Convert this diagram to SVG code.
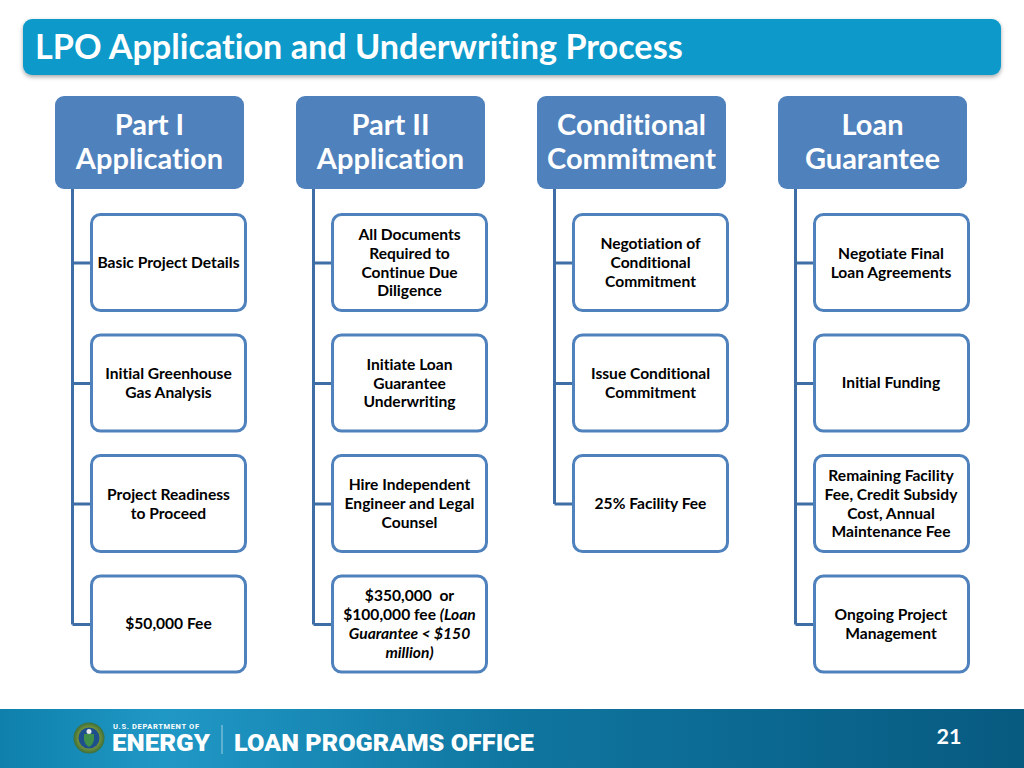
<svg xmlns="http://www.w3.org/2000/svg" width="1024" height="768" viewBox="0 0 1024 768">
<defs>
<linearGradient id="foot" x1="0" y1="0" x2="1" y2="0"><stop offset="0" stop-color="#0e80ab"/><stop offset="0.16" stop-color="#2098c6"/><stop offset="0.5" stop-color="#0f76a0"/><stop offset="1" stop-color="#075a80"/></linearGradient>
<filter id="sh" x="-2%" y="-10%" width="104%" height="130%"><feDropShadow dx="0" dy="2" stdDeviation="2" flood-color="#000" flood-opacity="0.35"/></filter>
<radialGradient id="seal"><stop offset="0.7" stop-color="#6f8f3c"/><stop offset="1" stop-color="#3d6e3a"/></radialGradient>
</defs>
<style>
text{font-family:"Lato","Liberation Sans",sans-serif;font-weight:700;text-anchor:middle;font-variant-ligatures:none}
.h rect{fill:#4f81bd}
.h text{fill:#fff;font-size:29px;transform:translateY(1px)}
.c rect{fill:#fff;stroke:#4f81bd;stroke-width:3}
.c text{fill:#000;font-size:15.600px;transform:translateY(0.6px)}
.l{fill:none;stroke:#3f6ea6;stroke-width:3}
</style>
<rect width="1024" height="768" fill="#fff"/>
<g id="title"><rect x="23" y="19" width="978" height="56" rx="9" fill="#0a99c9" filter="url(#sh)"/>
<text x="35" y="59" fill="#fff" style="font-size:34.200px;text-anchor:start">LPO Application and Underwriting Process</text></g>

<g id="connectors" class="l">
<path d="M72.500 189V624.500M72.500 263H92M72.500 383.500H92M72.500 504H92M72.500 624.500H92"/>
<path d="M313.500 189V624.500M313.500 263H333M313.500 383.500H333M313.500 504H333M313.500 624.500H333"/>
<path d="M554.500 189V504M554.500 263H574M554.500 383.500H574M554.500 504H574"/>
<path d="M795.500 189V624.500M795.500 263H815M795.500 383.500H815M795.500 504H815M795.500 624.500H815"/>
</g>

<g id="h1" class="h"><rect x="55" y="96" width="189" height="93" rx="9"/><text x="149.500" y="134">Part I</text><text x="149.500" y="168">Application</text></g>
<g id="h2" class="h"><rect x="296" y="96" width="189" height="93" rx="9"/><text x="390.500" y="134">Part II</text><text x="390.500" y="168">Application</text></g>
<g id="h3" class="h"><rect x="537" y="96" width="189" height="93" rx="9"/><text x="631.500" y="134">Conditional</text><text x="631.500" y="168">Commitment</text></g>
<g id="h4" class="h"><rect x="778" y="96" width="189" height="93" rx="9"/><text x="872.500" y="134">Loan</text><text x="872.500" y="168">Guarantee</text></g>

<g id="a1" class="c"><rect x="91.500" y="214.500" width="154" height="96" rx="9"/><text x="168.500" y="267">Basic Project Details</text></g>
<g id="a2" class="c"><rect x="91.500" y="335" width="154" height="96" rx="9"/><text x="168.500" y="378">Initial Greenhouse</text><text x="168.500" y="397">Gas Analysis</text></g>
<g id="a3" class="c"><rect x="91.500" y="455.500" width="154" height="96" rx="9"/><text x="168.500" y="499">Project Readiness</text><text x="168.500" y="518">to Proceed</text></g>
<g id="a4" class="c"><rect x="91.500" y="576" width="154" height="96" rx="9"/><text x="168.500" y="628">$50,000 Fee</text></g>

<g id="b1" class="c"><rect x="332.500" y="214.500" width="154" height="96" rx="9"/><text x="409.500" y="239">All Documents</text><text x="409.500" y="258">Required to</text><text x="409.500" y="277">Continue Due</text><text x="409.500" y="295">Diligence</text></g>
<g id="b2" class="c"><rect x="332.500" y="335" width="154" height="96" rx="9"/><text x="409.500" y="369">Initiate Loan</text><text x="409.500" y="388">Guarantee</text><text x="409.500" y="406">Underwriting</text></g>
<g id="b3" class="c"><rect x="332.500" y="455.500" width="154" height="96" rx="9"/><text x="409.500" y="489">Hire Independent</text><text x="409.500" y="508">Engineer and Legal</text><text x="409.500" y="527">Counsel</text></g>
<g id="b4" class="c"><rect x="332.500" y="576" width="154" height="96" rx="9"/><text x="409.500" y="600" xml:space="preserve">$350,000  or</text><text x="409.500" y="619">$100,000 fee <tspan font-style="italic">(Loan</tspan></text><text x="409.500" y="638" font-style="italic">Guarantee &lt; $150</text><text x="409.500" y="657" font-style="italic">million)</text></g>

<g id="c1" class="c"><rect x="573.500" y="214.500" width="154" height="96" rx="9"/><text x="650.500" y="248">Negotiation of</text><text x="650.500" y="267">Conditional</text><text x="650.500" y="286">Commitment</text></g>
<g id="c2" class="c"><rect x="573.500" y="335" width="154" height="96" rx="9"/><text x="650.500" y="378">Issue Conditional</text><text x="650.500" y="397">Commitment</text></g>
<g id="c3" class="c"><rect x="573.500" y="455.500" width="154" height="96" rx="9"/><text x="650.500" y="508">25% Facility Fee</text></g>

<g id="d1" class="c"><rect x="814.500" y="214.500" width="154" height="96" rx="9"/><text x="891" y="258">Negotiate Final</text><text x="891" y="277">Loan Agreements</text></g>
<g id="d2" class="c"><rect x="814.500" y="335" width="154" height="96" rx="9"/><text x="891" y="387">Initial Funding</text></g>
<g id="d3" class="c"><rect x="814.500" y="455.500" width="154" height="96" rx="9"/><text x="891" y="480">Remaining Facility</text><text x="891" y="499">Fee, Credit Subsidy</text><text x="891" y="518">Cost, Annual</text><text x="891" y="536">Maintenance Fee</text></g>
<g id="d4" class="c"><rect x="814.500" y="576" width="154" height="96" rx="9"/><text x="891" y="619">Ongoing Project</text><text x="891" y="638">Management</text></g>

<g id="footer">
<rect x="0" y="709" width="1024" height="59" fill="url(#foot)"/>
<circle cx="89" cy="738" r="15.500" fill="url(#seal)"/><circle cx="89" cy="738" r="10.500" fill="#1d4f8c"/><path d="M84 734h10v6q-1 5-5 7q-4-2-5-7z" fill="#3f8f4a"/><circle cx="89" cy="731.500" r="2.500" fill="#e8e8e8"/>
<text x="113" y="729" fill="#fff" style="font-family:'Roboto',sans-serif;font-size:7.500px;text-anchor:start" textLength="86">U.S. DEPARTMENT OF</text>
<text x="112" y="751" fill="#fff" style="font-family:'Roboto',sans-serif;font-weight:900;font-size:23px;text-anchor:start" textLength="98" lengthAdjust="spacingAndGlyphs">ENERGY</text>
<rect x="221.500" y="725" width="1" height="29" fill="#9fd0e4"/>
<text x="234" y="751" fill="#fff" style="font-family:'Roboto',sans-serif;font-weight:900;font-size:24px;text-anchor:start" textLength="300" lengthAdjust="spacingAndGlyphs">LOAN PROGRAMS OFFICE</text>
<text x="949" y="744" fill="#fff" style="font-size:21.500px">21</text>
</g>
</svg>
